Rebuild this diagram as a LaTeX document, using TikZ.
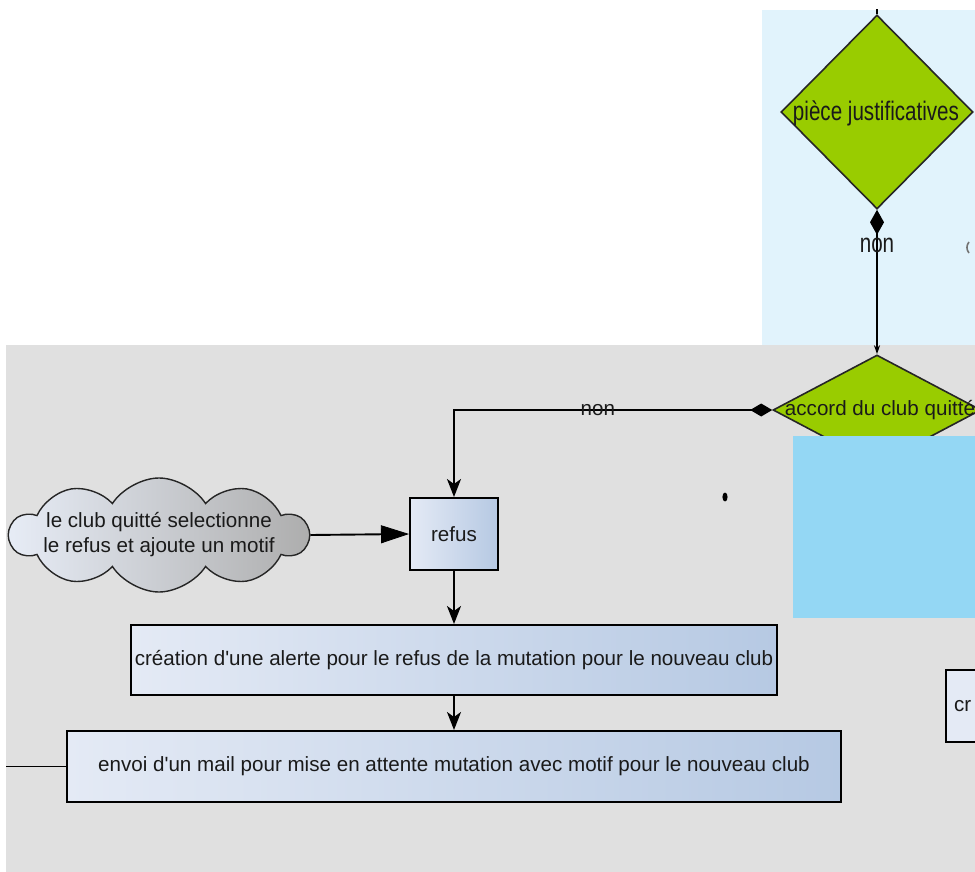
\documentclass[tikz,border=0pt]{standalone}
\usepackage{fontspec}
\setmainfont{Liberation Sans}[Ligatures=TeXOff]
\usetikzlibrary{shapes.geometric,shapes.symbols,arrows.meta}
\definecolor{panelblue}{HTML}{E1F3FC}
\definecolor{panelgray}{HTML}{E0E0E0}
\definecolor{dgreen}{HTML}{99CC00}
\definecolor{skyrect}{HTML}{94D7F4}
\definecolor{boxl}{HTML}{E4EAF5}
\definecolor{boxr}{HTML}{B6C9E3}
\definecolor{txt}{HTML}{1A1A1A}
\tikzset{
  every node/.style={font=\fontsize{20.6}{25}\selectfont, text=txt},
  procbox/.style={draw=black, line width=2pt, rectangle, inner sep=0pt, left color=boxl, right color=boxr},
  decision/.style={draw=black!85, line width=1.6pt, diamond, inner sep=0pt, fill=dgreen},
  thought/.style={draw=black!85, line width=1.4pt, cloud, cloud puffs=10, cloud puff arc=115, cloud ignores aspect, inner sep=0pt, left color=boxl!90!white, right color=black!32},
  flow/.style={draw=black, line width=1.9pt},
  tallt/.style={yscale=1.3},
}
\begin{document}
\begin{tikzpicture}[x=1pt,y=-1pt]
\useasboundingbox (0,0) rectangle (975,872);
\clip (0,0) rectangle (975,872);
\fill[white] (0,0) rectangle (975,872);
% panels
\fill[panelblue] (762,10) rectangle (975,345);
\fill[panelgray] (6,345) rectangle (975,872);

% top decision
\node[decision, minimum width=192pt, minimum height=194pt] (d1) at (877,112) {};
\node[tallt] (d1t) at (876,113) {pièce justificatives};
\coordinate (topend) at (877,9);
\draw[flow, line width=1.5pt] (d1.north) -- (topend);

% second decision
\node[decision, minimum width=208pt, minimum height=110pt] (d2) at (877,410) {};
\node (d2t) at (880,410) {accord du club quitté};

% blue rectangle covering
\fill[skyrect] (793,436) rectangle (975,618);

% small marks
\fill[black] (725,497) ellipse [x radius=2.6pt, y radius=4.5pt];
\draw[black!55, line width=1.6pt] (969,242) to[bend right=40] (969,253);

% process nodes
\node[procbox, minimum width=88pt, minimum height=72pt] (refus) at (454,534) {refus};
\node[thought, minimum width=298pt, minimum height=114pt] (cloud) at (159,535) {};
\node[align=center] (cloudt) at (159,535) {le club quitté selectionne\\le refus et ajoute un motif};
\node[procbox, minimum width=646pt, minimum height=70pt] (creation) at (454,660) {création d'une alerte pour le refus de la mutation pour le nouveau club};
\node[procbox, minimum width=774pt, minimum height=71pt] (envoi) at (454,766.5) {envoi d'un mail pour mise en attente mutation avec motif pour le nouveau club};
\node[procbox, minimum width=90pt, minimum height=72pt, text width=80pt, align=left, left color=boxl, right color=boxl] (crbox) at (991,706) {\hspace*{3pt}cr};
\coordinate (leftend) at (6,766.5);

% connectors
\draw[flow, line width=1.6pt, {Diamond[length=25pt,width=14pt]}-{Stealth[length=9pt,width=6pt]}] (d1.south) -- (d2.north)
  node[pos=0.25, tallt] (non1) {non};
\draw[flow, {Diamond[length=22pt,width=13pt]}-{Stealth[length=18pt,width=14pt,inset=5pt]}] (d2.west) -| (refus.north)
  node[pos=0.274] (non2) {non};
\draw[flow, -{Triangle[length=28pt,width=18pt,fill=black,line width=0.8pt]}] (cloud.east) -- (refus.west);
\draw[flow, -{Stealth[length=18pt,width=14pt,inset=5pt]}] (refus.south) -- (creation.north);
\draw[flow, -{Stealth[length=18pt,width=14pt,inset=5pt]}] (creation.south) -- (envoi.north);
\draw[flow] (envoi.west) -- (leftend);
\end{tikzpicture}
\end{document}
